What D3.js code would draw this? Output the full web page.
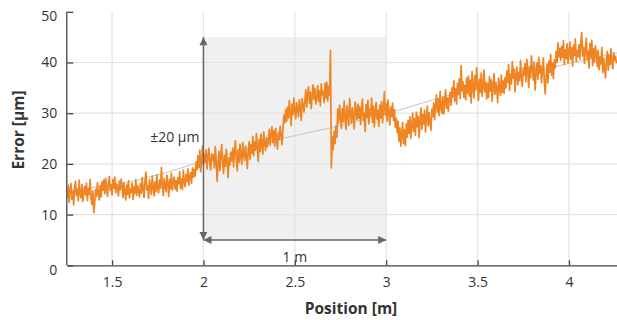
<!DOCTYPE html>
<html>
<head>
<meta charset="utf-8">
<script src="https://cdn.jsdelivr.net/npm/d3@7"></script>
<style>
  html, body { margin: 0; padding: 0; background: #fff; }
  svg { display: block; font-family: "Open Sans", "Noto Sans", sans-serif; }
</style>
</head>
<body>
<svg id="chart" width="617" height="320"></svg>
<script>
// ---- data ----
const positionStart = 1.255;   // m, first sample
const positionStep = 0.005;    // m, sample spacing
const errorValues = [
  13.2,15.8,12.4,14.9,16.1,13.0,14.6,11.9,15.3,16.6,13.8,15.0,12.7,16.8,14.1,13.3,15.9,12.6,14.4,15.5,
  13.9,16.2,12.8,15.1,14.0,16.9,13.1,12.0,14.7,10.4,12.3,15.0,13.6,16.3,14.2,12.9,15.7,13.5,16.5,14.8,
  16.8,14.1,17.2,15.0,13.6,16.4,17.5,14.7,15.9,13.9,16.9,15.2,17.4,14.3,16.0,15.3,13.7,16.6,14.9,17.0,
  15.6,13.4,16.3,14.5,12.9,15.8,14.0,16.7,13.3,15.1,14.4,16.2,13.0,15.4,14.2,16.9,13.8,15.7,14.6,13.5,
  16.1,14.2,17.3,15.0,13.4,16.5,18.4,14.8,15.7,13.2,16.9,15.3,14.0,17.6,15.5,13.7,16.4,14.5,17.9,15.1,
  14.3,16.8,15.2,19.3,16.0,13.8,17.1,15.6,14.5,17.8,16.2,13.6,16.9,15.1,18.2,14.8,16.5,17.4,15.0,16.7,
  14.6,17.3,16.1,18.5,15.2,17.0,14.9,18.8,16.4,15.5,17.9,16.6,19.0,15.8,17.5,18.3,16.2,19.2,17.4,18.9,
  17.6,20.4,18.9,21.6,19.3,22.7,18.4,20.8,23.5,19.8,21.9,20.3,22.8,19.0,21.3,23.1,20.1,18.8,22.0,20.7,
  21.8,19.2,23.4,20.6,16.6,19.9,22.5,18.7,21.4,23.8,20.2,18.1,21.7,19.5,22.9,20.4,17.3,21.2,19.8,22.3,
  20.6,23.1,19.4,22.4,24.6,21.0,18.6,22.8,20.3,23.9,21.5,19.9,24.2,22.0,20.7,23.5,21.8,19.1,22.6,24.4,
  20.9,23.8,22.1,25.4,21.6,24.3,22.7,26.0,23.1,20.5,24.8,22.4,25.9,23.6,21.9,26.3,24.1,22.6,25.2,23.4,
  24.6,26.8,23.7,25.9,27.3,24.2,26.5,23.5,27.0,25.1,22.9,26.2,24.8,27.4,25.6,23.8,26.9,29.6,28.1,30.7,
  28.4,31.2,29.0,32.5,30.1,27.6,31.8,29.7,33.0,30.4,28.9,32.1,30.8,29.3,32.7,31.0,28.6,32.9,31.5,30.2,
  32.4,34.6,31.2,33.8,35.2,32.0,34.1,30.9,33.5,35.6,32.7,34.9,31.8,33.2,35.4,32.3,34.4,31.5,35.8,33.6,
  34.2,32.1,35.9,33.0,36.1,32.4,35.3,33.6,42.4,19.2,25.3,22.8,26.4,24.0,27.5,25.2,30.8,28.1,31.6,29.4,
  27.0,30.9,28.3,32.4,29.1,26.8,31.5,29.8,27.6,32.9,30.2,28.0,31.1,29.4,26.9,32.2,30.5,28.7,31.8,29.0,
  31.3,27.8,30.6,32.8,28.5,30.0,26.4,31.7,29.2,32.5,27.9,30.8,29.5,33.0,28.2,31.4,27.3,30.3,32.1,28.8,
  30.5,27.4,31.6,29.0,32.3,28.1,30.9,34.2,29.6,31.8,28.4,32.6,30.1,27.7,31.2,29.3,32.0,28.6,30.7,27.2,
  29.0,26.2,28.4,24.5,27.1,23.5,25.8,28.2,24.0,26.7,23.6,27.9,25.3,28.6,26.0,29.3,25.1,27.6,30.0,26.4,
  28.9,25.6,30.2,27.3,29.4,25.2,28.5,31.0,26.8,29.7,27.9,30.6,26.3,29.0,31.4,27.5,30.1,28.2,26.6,30.8,
  29.3,32.0,28.7,31.5,33.6,30.2,32.8,29.5,34.3,31.1,30.0,33.2,29.8,32.4,34.6,31.0,33.0,30.4,32.9,34.1,
  31.6,35.0,33.2,36.4,32.4,34.8,31.8,35.9,33.7,36.8,32.9,39.4,34.5,36.2,33.1,35.5,32.6,36.9,34.0,37.3,
  33.4,36.5,32.0,38.2,35.1,33.0,37.4,34.6,39.0,35.8,32.5,36.7,34.1,37.9,33.3,35.4,38.5,34.2,36.1,32.8,
  35.9,33.1,37.2,34.4,36.6,32.3,35.3,37.8,33.7,36.0,34.8,32.1,36.9,35.2,33.5,37.5,34.1,36.3,33.9,37.0,
  35.0,38.3,36.1,39.6,34.5,37.7,35.8,40.2,36.9,38.7,34.2,37.4,39.1,35.6,38.0,36.4,40.4,37.1,35.3,38.9,
  37.6,39.8,36.2,40.6,38.4,35.1,39.2,37.0,41.3,38.8,36.5,40.1,34.6,38.1,39.9,36.7,41.0,37.9,39.4,36.0,
  38.6,40.9,36.4,33.8,37.2,39.7,36.0,40.3,38.1,41.6,37.5,39.9,36.8,40.5,38.9,42.2,40.0,43.9,41.1,42.8,
  40.4,43.2,41.0,44.3,39.6,42.5,40.8,43.7,39.9,42.1,44.0,40.6,42.9,39.3,43.4,41.4,44.6,40.2,42.3,41.2,
  43.5,40.7,44.1,45.9,41.3,43.0,39.8,42.6,44.8,40.5,42.2,38.9,43.8,41.0,44.4,39.4,42.7,40.1,43.3,41.8,
  39.2,42.4,38.6,41.1,39.7,43.0,38.0,40.8,39.1,37.0,40.3,42.2,38.5,41.5,39.6,42.7,40.0,38.8,41.9,40.4,
  41.2,39.8
];
const trendPositions = [1.255, 1.55, 1.8, 1.93, 2.44, 2.72, 3.07, 3.27, 3.91, 4.263];
const trendValues    = [14.8, 16.0, 18.3, 19.8, 25.1, 27.3, 30.6, 32.8, 39.1, 41.9];
const xTicks = [1.5, 2, 2.5, 3, 3.5, 4];
const yTicks = [0, 10, 20, 30, 40, 50];
const bandX = [2, 3];       // highlighted interval, m
const bandY = [5, 45];      // highlighted range, µm
const bandLabelY = "±20 µm";
const bandLabelX = "1 m";
const xTitle = "Position [m]";
const yTitle = "Error [µm]";

// ---- layout ----
const svg = d3.select("#chart");
const pL = 67.3, pR = 617, pT = 11.8, pB = 265.3;
const x = d3.scaleLinear().domain([1.255, 4.263]).range([pL, pR]);
const y = d3.scaleLinear().domain([0, 50]).range([pB, pT]);

const series = errorValues.map((v, i) => ({ p: positionStart + i * positionStep, v }));
const trend = trendPositions.map((p, i) => ({ p, v: trendValues[i] }));

const defs = svg.append("defs");
defs.append("clipPath").attr("id", "plotclip")
  .append("rect").attr("x", pL).attr("y", pT).attr("width", pR - pL).attr("height", pB - pT);

// arrow markers
defs.append("marker").attr("id", "arrowEnd")
  .attr("viewBox", "0 0 10 10").attr("refX", 10).attr("refY", 5)
  .attr("markerWidth", 12).attr("markerHeight", 8).attr("markerUnits", "userSpaceOnUse")
  .attr("orient", "auto")
  .append("path").attr("d", "M0,0 L10,5 L0,10 Z").attr("fill", "#666");
defs.append("marker").attr("id", "arrowStart")
  .attr("viewBox", "0 0 10 10").attr("refX", 0).attr("refY", 5)
  .attr("markerWidth", 12).attr("markerHeight", 8).attr("markerUnits", "userSpaceOnUse")
  .attr("orient", "auto")
  .append("path").attr("d", "M10,0 L0,5 L10,10 Z").attr("fill", "#666");

// highlighted band
svg.append("rect")
  .attr("x", x(bandX[0])).attr("y", y(bandY[1]))
  .attr("width", x(bandX[1]) - x(bandX[0]))
  .attr("height", y(bandY[0]) - y(bandY[1]))
  .attr("fill", "#f0f0f0");

// grid
const grid = svg.append("g").attr("stroke", "#e3e3e3").attr("stroke-width", 1.2);
xTicks.forEach(t => grid.append("line")
  .attr("x1", x(t)).attr("x2", x(t)).attr("y1", pT).attr("y2", pB));
yTicks.filter(t => t > 0 && t < 50).forEach(t => grid.append("line")
  .attr("x1", pL).attr("x2", pR).attr("y1", y(t)).attr("y2", y(t)));

// trend line
svg.append("path").datum(trend)
  .attr("clip-path", "url(#plotclip)")
  .attr("fill", "none").attr("stroke", "#c4c4c4").attr("stroke-width", 1)
  .attr("d", d3.line().x(d => x(d.p)).y(d => y(d.v)));

// measured error
svg.append("path").datum(series)
  .attr("clip-path", "url(#plotclip)")
  .attr("fill", "none").attr("stroke", "#ef8422").attr("stroke-width", 1.7)
  .attr("stroke-linejoin", "round")
  .attr("d", d3.line().x(d => x(d.p)).y(d => y(d.v)));

// annotation arrows
svg.append("line")
  .attr("x1", x(bandX[0])).attr("x2", x(bandX[0]))
  .attr("y1", y(bandY[0])).attr("y2", y(bandY[1]))
  .attr("stroke", "#666").attr("stroke-width", 1.5)
  .attr("marker-start", "url(#arrowStart)").attr("marker-end", "url(#arrowEnd)");
svg.append("line")
  .attr("x1", x(bandX[0])).attr("x2", x(bandX[1]))
  .attr("y1", y(bandY[0])).attr("y2", y(bandY[0]))
  .attr("stroke", "#666").attr("stroke-width", 1.5)
  .attr("marker-start", "url(#arrowStart)").attr("marker-end", "url(#arrowEnd)");

svg.append("text")
  .attr("x", x(bandX[0]) - 4).attr("y", 137).attr("dy", "0.35em")
  .attr("text-anchor", "end").attr("font-size", 14).attr("fill", "#333")
  .text(bandLabelY);
svg.append("text")
  .attr("x", x((bandX[0] + bandX[1]) / 2)).attr("y", 262)
  .attr("text-anchor", "middle").attr("font-size", 14).attr("fill", "#333")
  .text(bandLabelX);

// axes
const xAxis = d3.axisBottom(x).tickValues(xTicks).tickSize(-5).tickPadding(12)
  .tickFormat(d3.format("~g"));
const gx = svg.append("g").attr("transform", `translate(0,${pB})`).call(xAxis);
gx.select(".domain").attr("d", `M${pL},0.5H${pR}`).attr("stroke", "#444").attr("stroke-width", 1.3);
gx.selectAll(".tick line").attr("stroke", "#444").attr("stroke-width", 1.3);
gx.selectAll("text").attr("font-size", 14).attr("fill", "#333").attr("font-family", "Open Sans");

const yAxis = d3.axisLeft(y).tickValues(yTicks).tickSize(-6).tickPadding(10)
  .tickFormat(d3.format("~g"));
const gy = svg.append("g").attr("transform", `translate(${pL},0)`).call(yAxis);
gy.select(".domain").attr("d", `M-0.5,${pT}V${pB}`).attr("stroke", "#444").attr("stroke-width", 1.3);
gy.selectAll(".tick line").attr("stroke", "#444").attr("stroke-width", 1.3);
gy.selectAll("text").attr("font-size", 14).attr("fill", "#333").attr("font-family", "Open Sans")
  .attr("transform", d => d === 0 ? "translate(0,5)" : d === 50 ? "translate(0,4)" : null);

// axis titles
svg.append("text")
  .attr("x", 351).attr("y", 314)
  .attr("text-anchor", "middle").attr("font-size", 15.5).attr("font-weight", "bold").attr("fill", "#333")
  .text(xTitle);
svg.append("text")
  .attr("transform", "translate(24,130) rotate(-90)")
  .attr("text-anchor", "middle").attr("font-size", 15.5).attr("font-weight", "bold").attr("fill", "#333")
  .text(yTitle);
</script>
</body>
</html>
